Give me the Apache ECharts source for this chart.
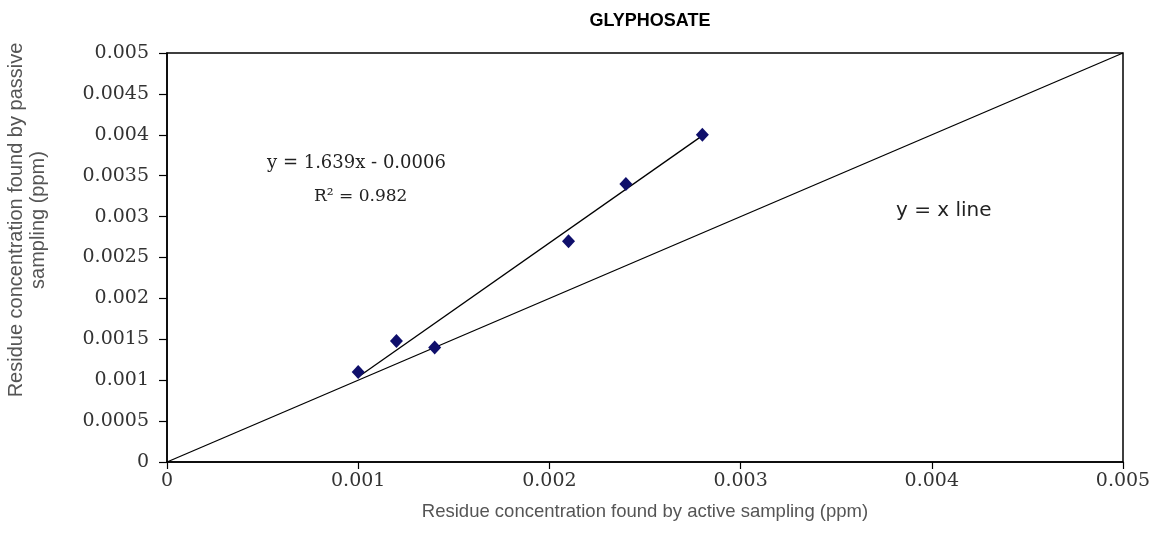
<!DOCTYPE html>
<html>
<head>
<meta charset="utf-8">
<script src="https://cdn.jsdelivr.net/npm/echarts@6/dist/echarts.min.js"></script>
<style>
  html, body { margin: 0; padding: 0; background: #fff; }
  #chart { width: 1158px; height: 548px; }
</style>
</head>
<body>
<div id="chart"></div>
<script>
  // measured points (active vs passive sampling, ppm)
  var activeX = [0.001, 0.0012, 0.0014, 0.0021, 0.0024, 0.0028];
  var passiveY = [0.0011, 0.00148, 0.0014, 0.0027, 0.0034, 0.004];
  // linear trendline ends, y = 1.639x - 0.0006
  var trendX = [0.001, 0.0028];
  var trendY = [0.00104, 0.00399];
  // y = x reference line
  var identX = [0, 0.005];
  var identY = [0, 0.005];

  function pairs(xs, ys) {
    return xs.map(function (x, i) { return [x, ys[i]]; });
  }

  var chart = echarts.init(document.getElementById("chart"));
  var tickFont = { fontFamily: "DejaVu Serif", fontSize: 19, color: "#333" };

  var option = {
    animation: false,
    title: {
      text: "GLYPHOSATE",
      left: 645,
      top: 7,
      textAlign: "center",
      textStyle: { fontFamily: "Liberation Sans", fontSize: 18, fontWeight: "bold", color: "#000" }
    },
    grid: {
      left: 167, top: 53, width: 956, height: 409,
      outerBoundsMode: "none",
      containLabel: false,
      show: true, borderColor: "#000", borderWidth: 1.5, backgroundColor: "#fff"
    },
    xAxis: {
      type: "value",
      min: 0, max: 0.005, interval: 0.001,
      name: "Residue concentration found by active sampling (ppm)",
      nameLocation: "middle",
      nameGap: 40,
      nameTextStyle: { fontFamily: "Liberation Sans", fontSize: 18.5, color: "#555" },
      axisLine: { lineStyle: { color: "#000", width: 1.5 } },
      axisTick: { show: true, inside: false, length: 7, lineStyle: { color: "#000", width: 1.2 } },
      axisLabel: Object.assign({ margin: 10 }, tickFont),
      splitLine: { show: false }
    },
    yAxis: {
      type: "value",
      min: 0, max: 0.005, interval: 0.0005,
      axisLine: { show: true, lineStyle: { color: "#000", width: 1.5 } },
      axisTick: { show: true, inside: false, length: 8, lineStyle: { color: "#000", width: 1.2 } },
      axisLabel: Object.assign({ margin: 18 }, tickFont),
      splitLine: { show: false }
    },
    series: [
      {
        name: "y = x",
        type: "line",
        data: pairs(identX, identY),
        symbol: "none",
        lineStyle: { color: "#000", width: 1.3 },
        z: 2
      },
      {
        name: "trend",
        type: "line",
        data: pairs(trendX, trendY),
        symbol: "none",
        lineStyle: { color: "#000", width: 1.3 },
        z: 2
      },
      {
        name: "GLYPHOSATE",
        type: "scatter",
        data: pairs(activeX, passiveY),
        symbol: "diamond",
        symbolSize: [13, 14],
        itemStyle: { color: "#0f0f6b", opacity: 1 },
        z: 3
      }
    ],
    graphic: [
      {
        // y axis title sits above the axis middle in the original
        type: "text", x: 27, y: 220, rotation: Math.PI / 2,
        style: {
          text: "Residue concentration found by passive\nsampling (ppm)",
          fontFamily: "Liberation Sans", fontSize: 20, lineHeight: 22,
          fill: "#555", align: "center", verticalAlign: "middle"
        }
      },
      {
        type: "text", left: 267, top: 154,
        style: { text: "y = 1.639x - 0.0006", fontFamily: "DejaVu Serif", fontSize: 18, fill: "#222" }
      },
      {
        type: "text", left: 314, top: 188,
        style: { text: "R\u00B2 = 0.982", fontFamily: "DejaVu Serif", fontSize: 17, fill: "#222" }
      },
      {
        type: "text", left: 896, top: 201,
        style: { text: "y = x line", fontFamily: "DejaVu Sans", fontSize: 20, fill: "#222" }
      }
    ]
  };

  chart.setOption(option);
</script>
</body>
</html>
